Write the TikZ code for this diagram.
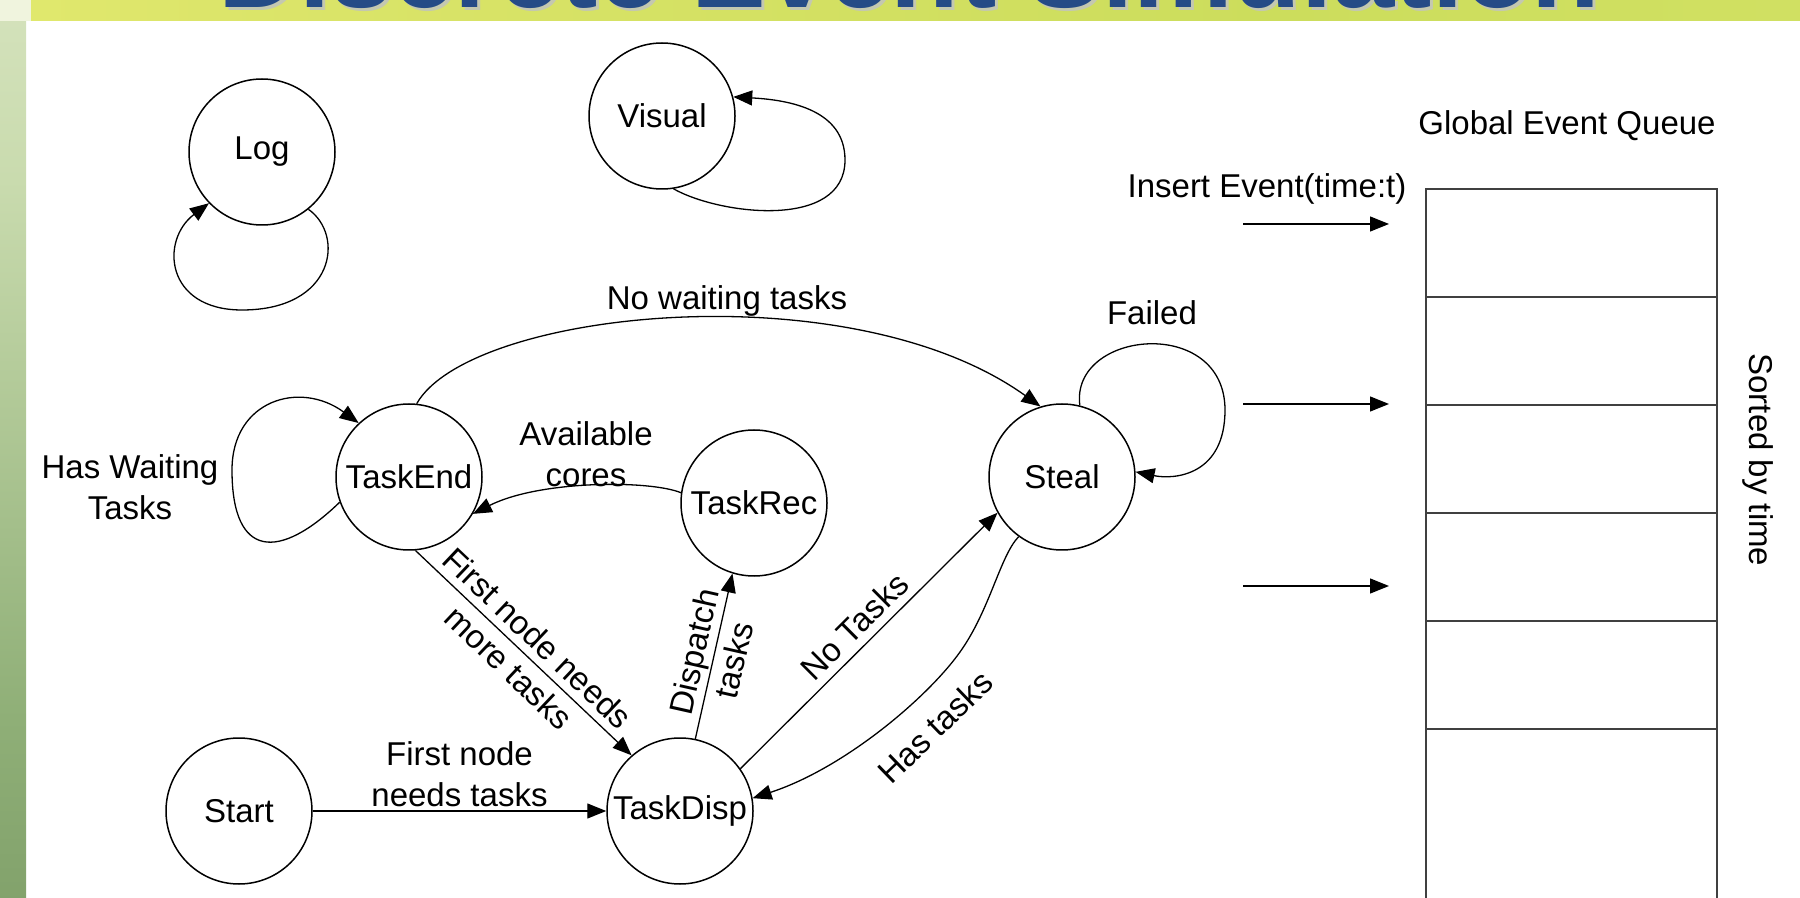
\documentclass[tikz,border=0pt]{standalone}
\usepackage{fontspec}
\setmainfont{Liberation Sans}
\usetikzlibrary{arrows.meta}
\definecolor{titleblue}{HTML}{254B86}
\definecolor{titleshadow}{HTML}{C4C8B0}
\definecolor{stripTop}{HTML}{F0F4DE}
\definecolor{stripA}{HTML}{C9DBAE}
\definecolor{stripB}{HTML}{8FAF77}
\definecolor{stripC}{HTML}{7C9C66}
\definecolor{stripBot}{HTML}{8DA775}
\definecolor{bandA}{HTML}{F6F77C}
\definecolor{bandB}{HTML}{DCE56A}
\definecolor{bandC}{HTML}{CCDD5C}
\definecolor{bandD}{HTML}{D8E66C}
\pgfdeclareverticalshading{stripshade}{100bp}{color(0bp)=(stripBot); color(20bp)=(stripC); color(35bp)=(stripB); color(65bp)=(stripA); color(100bp)=(stripTop)}
\pgfdeclarehorizontalshading{bandshade}{100bp}{color(0bp)=(bandA); color(30bp)=(bandB); color(60bp)=(bandC); color(100bp)=(bandD)}
\begin{document}
\begin{tikzpicture}[x=0.5pt,y=-0.5pt,
  st/.style={circle,draw,line width=0.75pt,minimum size=73pt,inner sep=0pt,font=\fontsize{16.5}{19}\selectfont},
  lbl/.style={font=\fontsize{16.5}{20.5}\selectfont,align=center,inner sep=1pt},
  edge/.style={line width=0.65pt,-{Triangle[length=9.5pt,width=7.5pt]}},
  qline/.style={line width=1pt,draw=black!75}]
\useasboundingbox (0,0) rectangle (1800,898);
\clip (0,0) rectangle (1800,898);
\fill[white] (0,0) rectangle (1800,898);
% decoration
\shade[shading=stripshade] (0,0) rectangle (26,898);
\fill[stripTop] (0,0) rectangle (31,21);
\shade[shading=bandshade] (31,0) rectangle (1800,21);
\node[anchor=base west,inner sep=0pt,font=\bfseries\fontsize{56}{60}\selectfont,text=titleshadow] (titleshadow) at (221,11) {Discrete Event Simulation};
\node[anchor=base west,inner sep=0pt,font=\bfseries\fontsize{56}{60}\selectfont,text=titleblue] (title) at (218,8) {Discrete Event Simulation};
% states
\node[st] (log) at (262,152) {Log};
\node[st] (visual) at (662,116) {Visual};
\node[st] (taskend) at (409,477) {TaskEnd};
\node[st] (taskrec) at (754,503) {TaskRec};
\node[st] (steal) at (1062,477) {Steal};
\node[st] (start) at (239,811) {Start};
\node[st] (taskdisp) at (680,811) {TaskDisp};
% transitions
\draw[edge] (log.-51) .. controls (345,235) and (335,310) .. (242,310) .. controls (165,310) and (160,240) .. (log.224);
\draw[edge] (visual.-81) .. controls (720,215) and (845,230) .. (845,160) .. controls (845,110) and (790,100) .. (visual.15);
\draw[edge] (taskend.200) .. controls (280,560) and (232,560) .. (232,470) .. controls (232,400) and (300,380) .. (taskend.133);
\draw[edge] (taskend.84) .. controls (470,310) and (850,270) .. (steal.107);
\draw[edge] (taskrec.172) .. controls (650,480) and (540,480) .. (taskend.-30);
\draw[edge] (taskend.-85) -- node[lbl,sloped] {First node needs\\more tasks} (taskdisp.131);
\draw[edge] (taskdisp.78) -- node[lbl,sloped] {Dispatch\\tasks} (taskrec.253);
\draw[edge] (taskdisp.35) -- node[lbl,sloped,above=3pt] {No Tasks} (steal.209);
\draw[edge] (steal.234) .. controls (1000,556) and (990,610) .. (960,652) .. controls (928,697) and (845,768) .. (taskdisp.10);
\draw[edge] (steal.76) .. controls (1070,330) and (1225,315) .. (1225,410) .. controls (1225,475) and (1175,480) .. (steal.4);
\draw[edge] (start) -- node[lbl,above=1pt] {First node\\needs tasks} (taskdisp);
% free labels
\node[lbl] (hw) at (130,487) {Has Waiting\\Tasks};
\node[lbl] (nwt) at (727,301) {No waiting tasks};
\node[lbl] (avail) at (586,454) {Available\\cores};
\node[lbl] (failed) at (1152,313) {Failed};
\node[lbl,rotate=44] (hastasks) at (935,727) {Has tasks};
% queue
\node[lbl] (geq) at (1567,126) {Global Event Queue};
\node[lbl] (ins) at (1267,189) {Insert Event(time:t)};
\node[lbl,rotate=-90] (sorted) at (1758,460) {Sorted by time};
\draw[qline] (1426,189) rectangle (1717,930);
\foreach \yy in {297,405,513,621,729} \draw[qline] (1426,\yy) -- (1717,\yy);
\coordinate (a1) at (1243,224); \coordinate (b1) at (1389,224);
\coordinate (a2) at (1243,404); \coordinate (b2) at (1389,404);
\coordinate (a3) at (1243,586); \coordinate (b3) at (1389,586);
\draw[edge] (a1) -- (b1);
\draw[edge] (a2) -- (b2);
\draw[edge] (a3) -- (b3);
\end{tikzpicture}
\end{document}
